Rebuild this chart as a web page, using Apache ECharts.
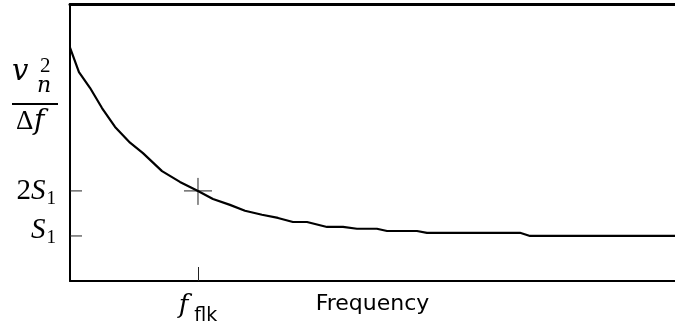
<!DOCTYPE html>
<html>
<head>
<meta charset="utf-8">
<script src="https://cdn.jsdelivr.net/npm/echarts@6/dist/echarts.min.js"></script>
<style>
  html, body { margin: 0; padding: 0; background: #fff; }
  #chart { width: 675px; height: 324px; }
</style>
</head>
<body>
<div id="chart"></div>
<script>
// frequency in units of f_flk, noise density in units of S1
const freq = [0, 0.07, 0.156, 0.25, 0.352, 0.469, 0.57, 0.719, 0.859, 1.0, 1.117, 1.25, 1.367, 1.5, 1.625,
  1.742, 1.852, 2.008, 2.133, 2.242, 2.398, 2.477, 2.711, 2.789, 3.516, 3.594, 4.727];
const noise = [5.18, 4.64, 4.29, 3.84, 3.42, 3.07, 2.84, 2.44, 2.2, 2.0, 1.82, 1.69, 1.56, 1.47, 1.4,
  1.31, 1.31, 1.2, 1.2, 1.16, 1.16, 1.11, 1.11, 1.07, 1.07, 1.0, 1.0];
const yTicks = [1, 2];
const xTicks = [1];
const cornerPoint = [1, 2]; // f_flk where noise = 2 S1

const serif = 'Liberation Serif';
const sans = 'DejaVu Sans';

const chart = echarts.init(document.getElementById('chart'));

const option = {
  animation: false,
  grid: { left: 70, right: 0, top: 4, bottom: 43, outerBoundsMode: 'none' },
  xAxis: [
    {
      type: 'value',
      min: 0,
      max: 4.727,
      splitLine: { show: false },
      axisLine: { lineStyle: { color: '#000', width: 2 } },
      axisTick: { inside: true, length: 14, customValues: xTicks, lineStyle: { color: '#222', width: 1 } },
      axisLabel: {
        customValues: xTicks,
        margin: 6,
        formatter: () => '{f|f}{sub|flk}',
        rich: {
          f: { fontFamily: 'DejaVu Serif', fontStyle: 'italic', fontSize: 26, color: '#000' },
          sub: { fontFamily: sans, fontSize: 19, color: '#000', padding: [20, 0, 0, 6] },
        },
      },
      name: 'Frequency',
      nameLocation: 'middle',
      nameGap: 12,
      nameMoveOverlap: false,
      nameTextStyle: { fontFamily: sans, fontSize: 22, color: '#000', verticalAlign: 'top' },
    },
    {
      type: 'value',
      position: 'top',
      min: 0,
      max: 4.727,
      splitLine: { show: false },
      axisLine: { lineStyle: { color: '#000', width: 3 } },
      axisTick: { show: false },
      axisLabel: { show: false },
    },
  ],
  yAxis: {
    type: 'value',
    min: 0,
    max: 6.15,
    splitLine: { show: false },
    axisLine: { lineStyle: { color: '#000', width: 2 } },
    axisTick: { show: false },
    axisLabel: {
      customValues: yTicks,
      margin: 14,
      formatter: (v) => (v === 2 ? '{n|2}{s|S}{sub|1}' : '{s1|S}{sub1|1}'),
      rich: {
        n: { fontFamily: serif, fontSize: 29, color: '#000' },
        s: { fontFamily: serif, fontStyle: 'italic', fontSize: 29, color: '#000' },
        sub: { fontFamily: serif, fontSize: 19, color: '#000', padding: [16, 0, 0, 1] },
        s1: { fontFamily: serif, fontStyle: 'italic', fontSize: 29, color: '#000', padding: [0, 0, 12, 0] },
        sub1: { fontFamily: serif, fontSize: 19, color: '#000', padding: [4, 0, 0, 1] },
      },
    },
  },
  graphic: [
    { type: 'text', left: 12, top: 58, style: { text: 'v', font: 'italic 29px "DejaVu Serif"', fill: '#000' } },
    { type: 'text', left: 40, top: 56, style: { text: '2', font: '21px "Liberation Serif"', fill: '#000' } },
    { type: 'text', left: 37, top: 75, style: { text: 'n', font: 'italic 22px "DejaVu Serif"', fill: '#000' } },
    { type: 'line', shape: { x1: 12, y1: 104, x2: 58, y2: 104 }, style: { stroke: '#000', lineWidth: 2 } },
    { type: 'text', left: 16, top: 108, style: { text: 'Δ', font: '27px "Liberation Serif"', fill: '#000' } },
    { type: 'text', left: 34, top: 108, style: { text: 'f', font: 'italic 28px "DejaVu Serif"', fill: '#000' } },
  ],
  series: [
    {
      type: 'line',
      data: freq.map((f, i) => [f, noise[i]]),
      showSymbol: false,
      lineStyle: { color: '#000', width: 2.2 },
    },
    {
      // inward y-axis ticks
      type: 'custom',
      data: yTicks.map((v) => [0, v]),
      renderItem: (params, api) => {
        const p = api.coord([api.value(0), api.value(1)]);
        return {
          type: 'line',
          shape: { x1: p[0], y1: p[1], x2: p[0] + 12, y2: p[1] },
          style: { stroke: '#222', lineWidth: 1 },
        };
      },
    },
    {
      type: 'custom',
      data: [cornerPoint],
      renderItem: (params, api) => {
        const p = api.coord([api.value(0), api.value(1)]);
        const st = { stroke: '#222', lineWidth: 1 };
        return {
          type: 'group',
          children: [
            { type: 'line', shape: { x1: p[0] - 14, y1: p[1], x2: p[0] + 14, y2: p[1] }, style: st },
            { type: 'line', shape: { x1: p[0], y1: p[1] - 13, x2: p[0], y2: p[1] + 14 }, style: st },
          ],
        };
      },
    },
  ],
};

chart.setOption(option);
window.addEventListener('resize', () => chart.resize());
</script>
</body>
</html>
